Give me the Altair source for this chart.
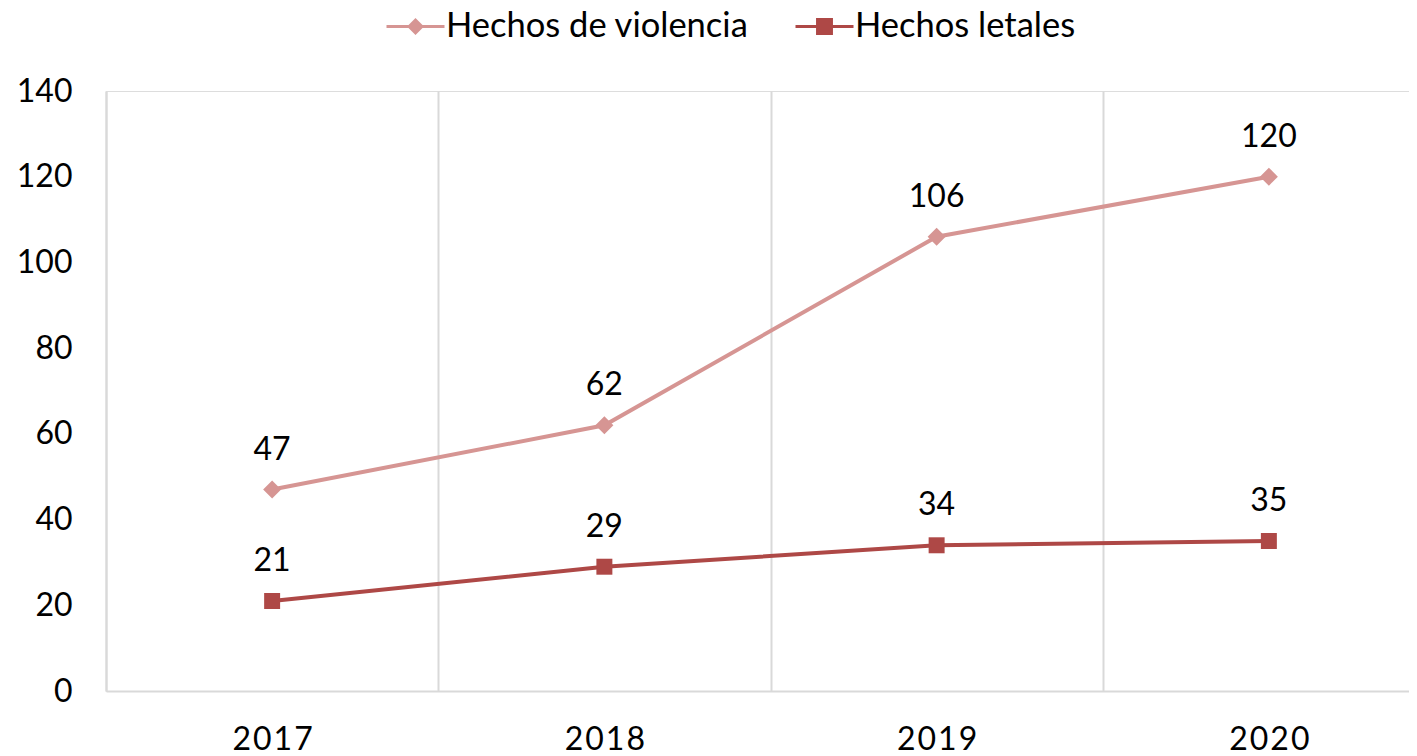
import altair as alt
import pandas as pd

years = ["2017", "2018", "2019", "2020"]
violencia = [47, 62, 106, 120]
letales = [21, 29, 34, 35]
series_names = ["Hechos de violencia", "Hechos letales"]
colors = ["#D69593", "#AE4846"]
y_ticks = [0, 20, 40, 60, 80, 100, 120, 140]

rows = []
for yr, v in zip(years, violencia):
    rows.append({"year": yr, "value": v, "series": series_names[0]})
for yr, v in zip(years, letales):
    rows.append({"year": yr, "value": v, "series": series_names[1]})
df = pd.DataFrame(rows)

FONT = "Lato"

x_enc = alt.X(
    "year:N",
    sort=years,
    scale=alt.Scale(range=[0, 1329], paddingInner=0, paddingOuter=0),
    axis=alt.Axis(
        title=None,
        grid=True,
        gridColor="#d9d9d9",
        gridWidth=2,
        tickBand="extent",
        ticks=False,
        domainColor="#d9d9d9",
        domainWidth=2,
        labelFont=FONT,
        labelFontSize=32,
        labelColor="#000000",
        labelAngle=0,
        labelBaseline="top",
        labelPadding=33,
        labelExpr="join(split(datum.label, ''), '\u200a')",
    ),
)
y_enc = alt.Y(
    "value:Q",
    scale=alt.Scale(domain=[0, 140], nice=False),
    axis=alt.Axis(
        title=None,
        values=y_ticks,
        grid=False,
        ticks=False,
        domainColor="#d9d9d9",
        domainWidth=2,
        labelFont=FONT,
        labelFontSize=32,
        labelColor="#000000",
        labelPadding=34,
    ),
)
color_scale = alt.Scale(domain=series_names, range=colors)

legend_def = alt.Legend(
    title=None,
    orient="none",
    direction="horizontal",
    legendX=279,
    legendY=-95,
    symbolSize=3364,
    symbolStrokeWidth=3,
    labelFont=FONT,
    labelFontSize=34.5,
    labelColor="#000000",
    labelOffset=0,
    labelLimit=0,
    columnPadding=40,
)

color_enc = alt.Color("series:N", scale=color_scale, legend=legend_def)

base = alt.Chart(df)

lines = base.mark_line(strokeWidth=4).encode(x=x_enc, y=y_enc, color=color_enc)

diamond_pts = base.transform_filter(
    alt.datum.series == series_names[0]
).mark_point(filled=True, opacity=1, size=324, shape="M-1,0L0,-1L1,0L0,1Z").encode(
    x=x_enc, y=y_enc, color=color_enc
)
square_pts = base.transform_filter(
    alt.datum.series == series_names[1]
).mark_point(filled=True, opacity=1, size=289, shape="M-0.94,-0.94H0.94V0.94H-0.94Z").encode(
    x=x_enc, y=y_enc, color=color_enc
)

labels = base.mark_text(
    font=FONT, fontSize=32, color="#000000", baseline="alphabetic", dy=-30
).encode(x=x_enc, y=y_enc, text="value:Q")

# legend symbols: a horizontal line with the marker drawn as concentric outlines
legend_paths = [
    "M-1,0H1M-0.22,0L0,-0.22L0.22,0L0,0.22ZM-0.13,0L0,-0.13L0.13,0L0,0.13ZM-0.04,0L0,-0.04L0.04,0L0,0.04Z",
    "M-1,0H1M-0.24,-0.24H0.24V0.24H-0.24ZM-0.15,-0.15H0.15V0.15H-0.15ZM-0.06,-0.06H0.06V0.06H-0.06Z",
]

legend_layer = base.transform_filter("datum.value < 0").mark_point(
    filled=False, strokeWidth=3, opacity=1
).encode(
    x=x_enc,
    y=y_enc,
    color=color_enc,
    shape=alt.Shape(
        "series:N",
        scale=alt.Scale(domain=series_names, range=legend_paths),
        legend=legend_def,
    ),
)

chart = (
    alt.layer(lines, diamond_pts, square_pts, labels, legend_layer)
    .properties(
        width=1303,
        height=600,
        padding={"left": 98, "top": 83, "right": 0, "bottom": 65},
        autosize=alt.AutoSizeParams(type="none"),
    )
    .configure_view(stroke=None)
    .configure(background="#ffffff")
)

chart.save("out.html", embed_options={"renderer": "svg", "actions": False})
